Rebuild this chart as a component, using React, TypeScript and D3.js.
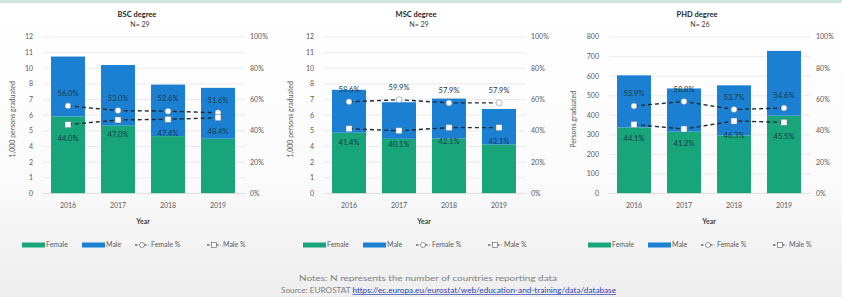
import * as d3 from 'd3';
import React from 'react';

const W = 842;
const H = 297;
const green = '#18a57a';
const blue = '#1b80d2';
const font = 'Lato, "Open Sans", sans-serif';

const years = ['2016', '2017', '2018', '2019'];

// persons graduated (thousands for BSC / MSC)
const bscFemale = [5.9, 5.2, 4.4, 4.2];
const bscMale = [4.6, 4.65, 3.95, 3.9];
const bscFemalePct = [56.0, 53.0, 52.6, 51.6];
const bscMalePct = [44.0, 47.0, 47.4, 48.4];

const mscFemale = [4.66, 4.19, 4.22, 3.75];
const mscMale = [3.29, 2.81, 3.06, 2.73];
const mscFemalePct = [58.6, 59.9, 57.9, 57.9];
const mscMalePct = [41.4, 40.1, 42.1, 42.1];

const phdFemale = [338, 316, 297, 398];
const phdMale = [266, 221, 256, 331];
const phdFemalePct = [55.9, 58.8, 53.7, 54.6];
const phdMalePct = [44.1, 41.2, 46.3, 45.5];

const thousandTicks = d3.range(0, 12.001, 1.2);
const phdTicks = d3.range(0, 801, 100);
const pctTicks = [0, 20, 40, 60, 80, 100];

const panels = [
  { title: 'BSC degree', n: 'N= 29', yTitle: '1,000 persons graduated', max: 12, ticks: thousandTicks,
    female: bscFemale, male: bscMale, fPct: bscFemalePct, mPct: bscMalePct, dx: 0, titleX: 137, yTitleX: 15 },
  { title: 'MSC degree', n: 'N= 29', yTitle: '1,000 persons graduated', max: 12, ticks: thousandTicks,
    female: mscFemale, male: mscMale, fPct: mscFemalePct, mPct: mscMalePct, dx: 281, titleX: 135, yTitleX: 12 },
  { title: 'PHD degree', n: 'N= 26', yTitle: 'Persons graduated', max: 800, ticks: phdTicks,
    female: phdFemale, male: phdMale, fPct: phdFemalePct, mPct: phdMalePct, dx: 566, titleX: 131, yTitleX: 10 },
];

const plotLeft = 43;
const plotRight = 243;
const plotTop = 37;
const plotBottom = 193.5;

function Panel({ p }: { p: any }) {
  const x = d3.scaleBand().domain(years).range([plotLeft, plotRight]).paddingInner(0.32).paddingOuter(0.16);
  const y = d3.scaleLinear().domain([0, p.max]).range([plotBottom, plotTop]);
  const yp = d3.scaleLinear().domain([0, 100]).range([plotBottom, plotTop]);
  const fmt = p.max === 12 ? d3.format('.0f') : d3.format('d');
  const cx = (d: string) => (x(d) as number) + x.bandwidth() / 2;
  const line = d3.line<number>().x((_, i) => cx(years[i])).y(v => yp(v));

  return (
    <g transform={`translate(${p.dx},0)`} fontFamily={font}>
      <text x={p.titleX} y={17} textAnchor="middle" fontSize={7.5} fontWeight="bold" fill="#262626">{p.title}</text>
      <text x={p.titleX + 3} y={27} textAnchor="middle" fontSize={7} fill="#404040">{p.n}</text>
      {p.ticks.map((t: number, i: number) => (
        <g key={i}>
          {t > 0 && <line x1={plotLeft} x2={plotRight + 2} y1={y(t)} y2={y(t)} stroke="#e4e4e4" strokeWidth={0.7} />}
          <text x={33} y={y(t)} dy="0.35em" textAnchor="end" fontSize={7} fill="#595959">{fmt(t)}</text>
        </g>
      ))}
      {pctTicks.map(t => (
        <text key={t} x={250} y={yp(t)} dy="0.35em" fontSize={7} fill="#595959">{t}%</text>
      ))}
      <text transform={`translate(${p.yTitleX},${(plotTop + plotBottom) / 2 + 4}) rotate(-90)`} textAnchor="middle"
        fontSize={7} fill="#595959">{p.yTitle}</text>
      {years.map((yr, i) => (
        <g key={yr}>
          <rect x={x(yr)} width={x.bandwidth()} y={y(p.female[i])} height={plotBottom - y(p.female[i])} fill={green} />
          <rect x={x(yr)} width={x.bandwidth()} y={y(p.female[i] + p.male[i])}
            height={y(p.female[i]) - y(p.female[i] + p.male[i])} fill={blue} />
          <text x={cx(yr)} y={208} textAnchor="middle" fontSize={7} fill="#595959">{yr}</text>
        </g>
      ))}
      <line x1={plotLeft} x2={plotRight + 2} y1={plotBottom} y2={plotBottom} stroke="#d9d9d9" strokeWidth={0.8} />
      <text x={(plotLeft + plotRight) / 2} y={224} textAnchor="middle" fontSize={7} fontWeight="bold" fill="#404040">Year</text>
      <path d={line(p.fPct) as string} fill="none" stroke="#1e2a38" strokeWidth={1.4} strokeDasharray="4,3" />
      <path d={line(p.mPct) as string} fill="none" stroke="#1e2a38" strokeWidth={1.4} strokeDasharray="4,3" />
      {years.map((yr, i) => (
        <g key={'m' + yr}>
          <circle cx={cx(yr)} cy={yp(p.fPct[i])} r={3} fill="#fff" stroke="#6a7a88" strokeWidth={0.5} />
          <rect x={cx(yr) - 3} y={yp(p.mPct[i]) - 3} width={6} height={6} fill="#fff" stroke="#6a7a88" strokeWidth={0.5} />
          <text x={cx(yr)} y={yp(p.fPct[i]) - 12.5} dy="0.35em" textAnchor="middle" fontSize={7.5} fill="#17384a">
            {p.fPct[i].toFixed(1)}%
          </text>
          <text x={cx(yr)} y={yp(p.mPct[i]) + 14} dy="0.35em" textAnchor="middle" fontSize={7.5} fill="#17384a">
            {p.mPct[i].toFixed(1)}%
          </text>
        </g>
      ))}
      <g transform="translate(22,245)" fontSize={7} fill="#595959">
        <rect x={0} y={-2.5} width={23} height={5} fill={green} />
        <text x={24} y={0} dy="0.35em">Female</text>
        <rect x={60} y={-2.5} width={23} height={5} fill={blue} />
        <text x={84} y={0} dy="0.35em">Male</text>
        <line x1={113} x2={127} y1={0} y2={0} stroke="#1e2a38" strokeWidth={1.2} strokeDasharray="2.5,2" />
        <circle cx={120} cy={0} r={2.5} fill="#fff" stroke="#595959" strokeWidth={0.6} />
        <text x={129} y={0} dy="0.35em">Female %</text>
        <line x1={185} x2={199} y1={0} y2={0} stroke="#1e2a38" strokeWidth={1.2} strokeDasharray="2.5,2" />
        <rect x={189.5} y={-2.5} width={5} height={5} fill="#fff" stroke="#595959" strokeWidth={0.6} />
        <text x={201} y={0} dy="0.35em">Male %</text>
      </g>
    </g>
  );
}

export default function App() {
  return (
    <svg width={W} height={H} style={{ position: 'absolute', left: 0, top: 0 }}>
      <defs>
        <linearGradient id="bg" x1="0" y1="0" x2="0" y2="1">
          <stop offset="0" stopColor="#ffffff" />
          <stop offset="0.6" stopColor="#fbfbfb" />
          <stop offset="1" stopColor="#eeeeee" />
        </linearGradient>
      </defs>
      <rect width={W} height={H} fill="url(#bg)" />
      <rect width={W} height={3} fill="#cde8de" />
      {panels.map(p => <Panel key={p.title} p={p} />)}
      <g fontFamily={font} fontSize={7} fill="#7f7f7f">
        <text x={299} y={281} textLength={258} lengthAdjust="spacingAndGlyphs">
          Notes: N represents the number of countries reporting data
        </text>
        <text x={281} y={293} textLength={335} lengthAdjust="spacingAndGlyphs">
          <tspan>Source: EUROSTAT </tspan>
          <tspan fill="#2b3fb0" textDecoration="underline">https://ec.europa.eu/eurostat/web/education-and-training/data/database</tspan>
        </text>
      </g>
    </svg>
  );
}
